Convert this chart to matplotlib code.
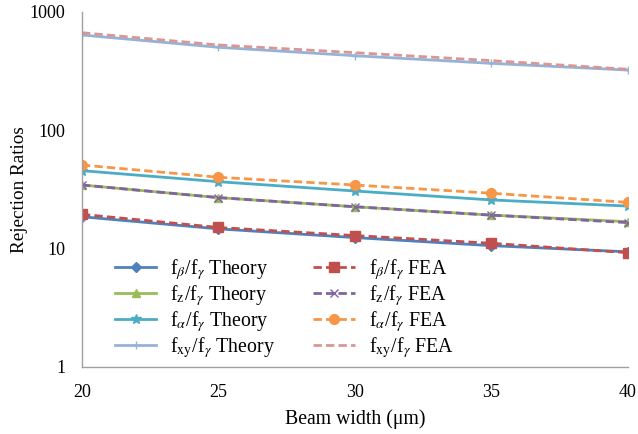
import matplotlib
matplotlib.use("Agg")
import matplotlib.pyplot as plt
from matplotlib.ticker import FixedLocator, FixedFormatter, NullLocator

plt.rcParams['font.family'] = ['Liberation Serif', 'DejaVu Serif']
plt.rcParams['mathtext.fontset'] = 'stix'

width_um = [20, 25, 30, 35, 40]

beta_theory = [18.6, 14.7, 12.4, 10.6, 9.4]
z_theory = [34.5, 27.0, 22.6, 19.2, 16.9]
alpha_theory = [45.6, 36.8, 30.7, 25.8, 22.9]
xy_theory = [639, 503, 427, 368, 323]

beta_fea = [19.5, 15.1, 12.9, 11.1, 9.25]
z_fea = [34.5, 27.0, 22.6, 19.2, 16.6]
alpha_fea = [50.9, 40.1, 34.5, 29.4, 24.6]
xy_fea = [668, 526, 453, 388, 328]

y_ticks = [1, 10, 100, 1000]
x_ticks = [20, 25, 30, 35, 40]

fig = plt.figure(figsize=(6.38, 4.34), dpi=100)
ax = fig.add_axes([0.1285, 0.1544, 0.8555, 0.818])

ax.plot(width_um, beta_theory, color="#4F81BD", lw=2, marker="D", ms=5,
        label=r"f$_\beta$/f$_\gamma$ Theory")
ax.plot(width_um, z_theory, color="#9BBB59", lw=2, marker="^", ms=6,
        label=r"f$_\mathrm{z}$/f$_\gamma$ Theory")
ax.plot(width_um, alpha_theory, color="#4BACC6", lw=2, marker="*", ms=7,
        label=r"f$_\alpha$/f$_\gamma$ Theory")
ax.plot(width_um, xy_theory, color="#95B3D7", lw=2, marker="+", ms=6,
        label=r"f$_\mathrm{xy}$/f$_\gamma$ Theory")

ax.plot(width_um, beta_fea, color="#C0504D", lw=2, ls=(0, (3, 1.5)), marker="s", ms=7,
        label=r"f$_\beta$/f$_\gamma$ FEA")
ax.plot(width_um, z_fea, color="#8064A2", lw=2, ls=(0, (3, 1.5)), marker="x", ms=6,
        label=r"f$_\mathrm{z}$/f$_\gamma$ FEA")
ax.plot(width_um, alpha_fea, color="#F79646", lw=2, ls=(0, (3, 1.5)), marker="o", ms=7,
        label=r"f$_\alpha$/f$_\gamma$ FEA")
ax.plot(width_um, xy_fea, color="#D99694", lw=2, ls=(0, (3, 1.5)),
        label=r"f$_\mathrm{xy}$/f$_\gamma$ FEA")

ax.set_yscale("log")
ax.set_ylim(1, 1000)
ax.set_xlim(20, 40)
ax.yaxis.set_major_locator(FixedLocator(y_ticks))
ax.yaxis.set_major_formatter(FixedFormatter([str(t) for t in y_ticks]))
ax.yaxis.set_minor_locator(NullLocator())
ax.set_xticks(x_ticks)
ax.set_xticklabels([str(t) for t in x_ticks])
ax.tick_params(length=0, labelsize=13, pad=12)
ax.tick_params(axis="y", pad=12)

for s in ["top", "right"]:
    ax.spines[s].set_visible(False)
for s in ["left", "bottom"]:
    ax.spines[s].set_color("#A0A0A0")
    ax.spines[s].set_linewidth(1)

ax.set_xlabel("Beam width (μm)", fontsize=14.2, labelpad=6)
ax.set_ylabel("Rejection Ratios", fontsize=13.8, labelpad=1)

ax.legend(ncol=2, frameon=False, loc="upper left", bbox_to_anchor=(0.06, 0.31),
          fontsize=14.3, handlelength=2.1, handletextpad=0.7, columnspacing=1.9,
          labelspacing=0.05, borderpad=0, borderaxespad=0)

fig.savefig("out.png", dpi=100, facecolor="white")
plt.close()
